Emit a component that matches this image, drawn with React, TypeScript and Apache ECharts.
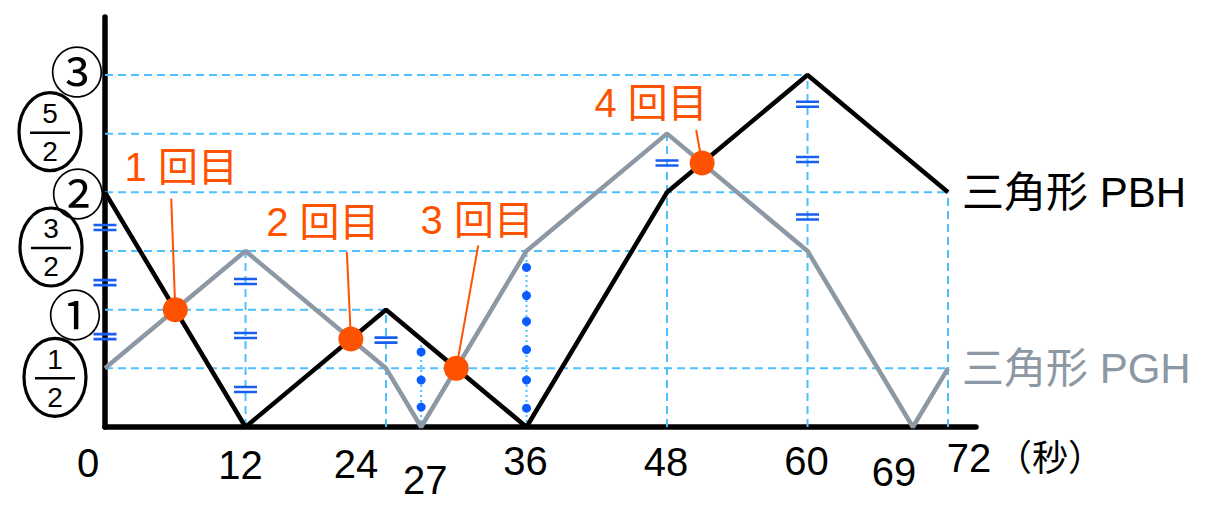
import React, { useEffect, useRef } from 'react'
import * as echarts from 'echarts'

// triangle areas over time (seconds)
const pbhTimes = [0, 12, 24, 36, 48, 60, 72]
const pbhValues = [2, 0, 1, 0, 2, 3, 2]
const pghTimes = [0, 12, 24, 27, 36, 48, 60, 69, 72]
const pghValues = [0.5, 1.5, 0.5, 0, 1.5, 2.5, 1.5, 0, 0.5]

const xTicks = [0, 12, 24, 27, 36, 48, 60, 69, 72]
const xUnit = '（秒）'
const yTicks = [0.5, 1, 1.5, 2, 2.5, 3]
const yTickLabels = ['1/2', '①', '3/2', '②', '5/2', '③']

// crossing points
const meetTimes = [6, 21, 30, 51]
const meetValues = [1, 0.75, 0.5, 2.25]
const meetLabels = ['1 回目', '2 回目', '3 回目', '4 回目']

// guide lines: [level, end time] and [time, top level]
const hGuides = [[3, 60], [2.5, 48], [2, 72], [1.5, 60], [1, 24], [0.5, 72]]
const vGuides = [[12, 1.5], [24, 1], [48, 2.5], [60, 3], [72, 2]]
const dotGuides = [[27, 0.72], [36, 1.5]]

// "=" equal-length marks
const eqTimes = [0, 0, 0, 12, 12, 12, 24, 48, 60, 60, 60]
const eqValues = [1.7, 1.23, 0.77, 1.24, 0.78, 0.32, 0.74, 2.25, 2.75, 2.28, 1.79]

// blue dots on the dotted guides
const dotTimes = [27, 27, 27, 36, 36, 36, 36, 36, 36]
const dotValues = [0.64, 0.4, 0.17, 1.36, 1.12, 0.9, 0.66, 0.4, 0.16]

const FONT = '"Liberation Sans", "Noto Sans CJK JP", sans-serif'
const ORANGE = '#ff5200'
const GRAY = '#8c98a3'
const GUIDE = '#4dc1ff'

const xLabelOffset: Record<number, number[]> = {
  0: [-17, 36], 12: [-5, 38], 24: [-30, 37], 27: [4, 53], 36: [-1, 34],
  48: [-1, 35], 60: [-1, 34], 69: [-19, 45], 72: [21, 31]
}
const yLabelOffset: Record<string, number[]> = {
  '③': [-28, -5], '5/2': [-55, -2], '②': [-27, -1], '3/2': [-54, -4], '①': [-30, 3], '1/2': [-50, 9]
}
const meetLayout = [
  { text: [6, -143], from: [-4, -111] },
  { text: [-28, -117], from: [-4, -87] },
  { text: [21, -148], from: [22, -123] },
  { text: [-51, -60], from: [-6, -33] }
]

export default function App() {
  const chartRef: any = useRef()

  useEffect(() => {
    document.body.style.margin = '0'
    const myChart = echarts.init(chartRef.current, null, { renderer: 'svg' })

    const guideSeries: any[] = []
    hGuides.forEach(([level, end]) => {
      guideSeries.push({
        type: 'line', silent: true, showSymbol: false, z: 1,
        data: [[0, level], [end, level]],
        lineStyle: { color: GUIDE, width: 2, type: [8, 5] }
      })
    })
    vGuides.forEach(([t, top]) => {
      guideSeries.push({
        type: 'line', silent: true, showSymbol: false, z: 1,
        data: [[t, 0], [t, top]],
        lineStyle: { color: GUIDE, width: 2, type: [8, 5] }
      })
    })
    dotGuides.forEach(([t, top]) => {
      guideSeries.push({
        type: 'line', silent: true, showSymbol: false, z: 1,
        data: [[t, 0], [t, top]],
        lineStyle: { color: GUIDE, width: 2, type: [2, 3] }
      })
    })

    const option = {
      animation: false,
      grid: { left: 105, right: 235, top: 17, bottom: 92 },
      xAxis: {
        type: 'value', min: 0, max: 74.39,
        axisLine: { show: true, lineStyle: { color: '#000', width: 5.5 } },
        axisTick: { show: false }, axisLabel: { show: false }, splitLine: { show: false }
      },
      yAxis: {
        type: 'value', min: 0, max: 3.494,
        axisLine: { show: true, lineStyle: { color: '#000', width: 5.5 } },
        axisTick: { show: false }, axisLabel: { show: false }, splitLine: { show: false }
      },
      series: [
        ...guideSeries,
        {
          name: '三角形 PGH', type: 'line', z: 2, showSymbol: false,
          data: pghTimes.map((t, i) => [t, pghValues[i]]),
          lineStyle: { color: GRAY, width: 4.5 },
          endLabel: { show: true, formatter: '三角形 PGH', distance: 14, color: GRAY, fontSize: 42, fontFamily: FONT }
        },
        {
          name: '三角形 PBH', type: 'line', z: 3, showSymbol: false,
          data: pbhTimes.map((t, i) => [t, pbhValues[i]]),
          lineStyle: { color: '#000', width: 4.5 },
          endLabel: { show: true, formatter: '三角形 PBH', distance: 14, color: '#000', fontSize: 42, fontFamily: FONT }
        },
        {
          type: 'scatter', z: 4, silent: true,
          symbol: 'path://M0,0H23V2.6H0Z M0,5H23V7.6H0Z', symbolSize: [23, 7.6],
          itemStyle: { color: '#1a5ef0', opacity: 1 },
          data: eqTimes.map((t, i) => [t, eqValues[i]])
        },
        {
          type: 'scatter', z: 4, silent: true, symbolSize: 9,
          itemStyle: { color: '#0a5cff', opacity: 1 },
          data: dotTimes.map((t, i) => [t, dotValues[i]])
        },
        {
          type: 'custom', z: 5, clip: false, silent: true,
          data: meetTimes.map((t, i) => [t, meetValues[i]]),
          renderItem: (params: any, api: any) => {
            const p = api.coord([api.value(0), api.value(1)])
            const lay = meetLayout[params.dataIndex]
            return {
              type: 'group',
              children: [
                {
                  type: 'line',
                  shape: { x1: p[0] + lay.from[0], y1: p[1] + lay.from[1], x2: p[0], y2: p[1] },
                  style: { stroke: ORANGE, lineWidth: 2 }
                },
                {
                  type: 'text', x: p[0] + lay.text[0], y: p[1] + lay.text[1],
                  style: { text: meetLabels[params.dataIndex], fill: ORANGE, font: `40px ${FONT}`, align: 'center', verticalAlign: 'middle' }
                }
              ]
            }
          }
        },
        {
          type: 'scatter', z: 6, silent: true, symbolSize: 25,
          itemStyle: { color: ORANGE, opacity: 1 },
          data: meetTimes.map((t, i) => [t, meetValues[i]])
        },
        {
          type: 'custom', z: 6, clip: false, silent: true,
          data: xTicks.map((t) => [t, 0]),
          renderItem: (params: any, api: any) => {
            const t = api.value(0)
            const p = api.coord([t, 0])
            const off = xLabelOffset[t] || [0, 36]
            const children: any[] = [
              {
                type: 'text', x: p[0] + off[0], y: p[1] + off[1],
                style: { text: String(t), fill: '#000', font: `40px ${FONT}`, align: 'center', verticalAlign: 'middle' }
              }
            ]
            if (params.dataIndex === xTicks.length - 1) {
              children.push({
                type: 'text', x: p[0] + 102, y: p[1] + 31,
                style: { text: xUnit, fill: '#000', font: `36px ${FONT}`, align: 'center', verticalAlign: 'middle' }
              })
            }
            return { type: 'group', children }
          }
        },
        {
          type: 'custom', z: 6, clip: false, silent: true,
          data: yTicks.map((v) => [0, v]),
          renderItem: (params: any, api: any) => {
            const label = yTickLabels[params.dataIndex]
            const p = api.coord([0, api.value(1)])
            const off = yLabelOffset[label] || [-30, 0]
            const cx = p[0] + off[0]
            const cy = p[1] + off[1]
            if (label.indexOf('/') >= 0) {
              const [n, d] = label.split('/')
              return {
                type: 'group',
                children: [
                  { type: 'ellipse', shape: { cx, cy, rx: 31, ry: 39 }, style: { fill: 'none', stroke: '#000', lineWidth: 3.2 } },
                  {
                    type: 'text', x: cx, y: cy - 18,
                    style: { text: n, fill: '#000', font: `28px ${FONT}`, align: 'center', verticalAlign: 'middle' }
                  },
                  { type: 'line', shape: { x1: cx - 20, y1: cy + 1, x2: cx + 20, y2: cy + 1 }, style: { stroke: '#000', lineWidth: 2.5 } },
                  {
                    type: 'text', x: cx, y: cy + 20,
                    style: { text: d, fill: '#000', font: `28px ${FONT}`, align: 'center', verticalAlign: 'middle' }
                  }
                ]
              }
            }
            return {
              type: 'text', x: cx, y: cy,
              style: { text: label, fill: '#000', font: '54px "Noto Sans CJK JP"', align: 'center', verticalAlign: 'middle' }
            }
          }
        }
      ]
    }
    myChart.setOption(option)
    return () => {
      myChart.dispose()
    }
  }, [])

  return <div style={{ width: '1211px', height: '519px' }} ref={chartRef} />
}
